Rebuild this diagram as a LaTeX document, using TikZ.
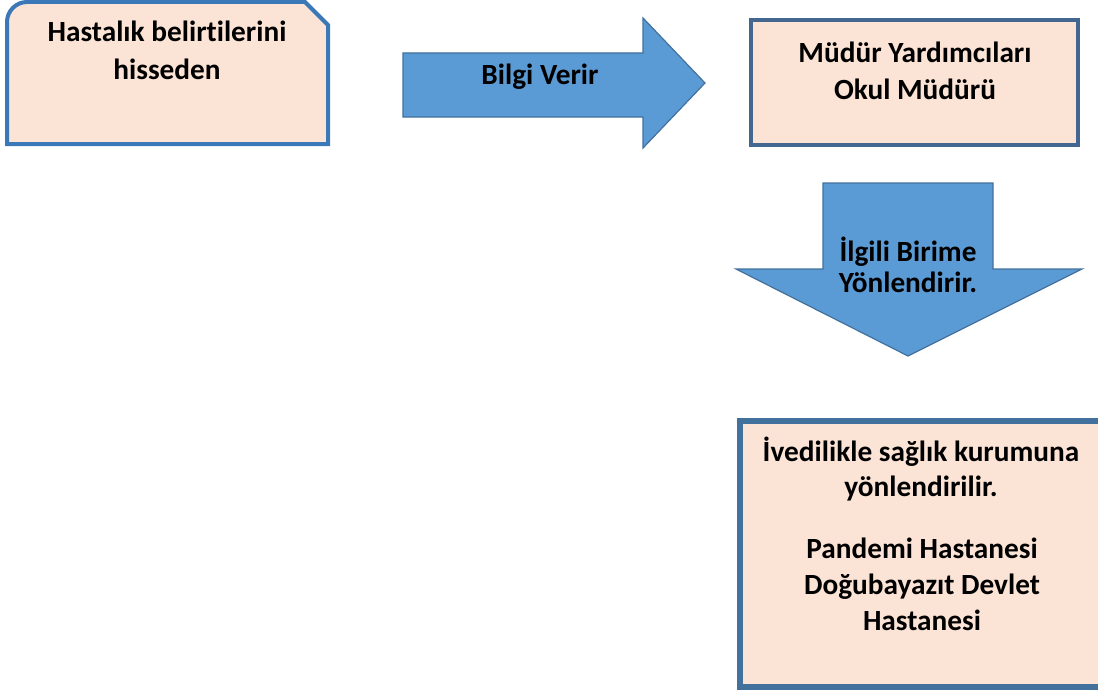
\documentclass[tikz,border=0pt]{standalone}
\usepackage{fontspec}
\setmainfont{Carlito}[Ligatures=NoCommon]
\definecolor{peach}{HTML}{FBE3D6}
\definecolor{boxone}{HTML}{3A78B8}
\definecolor{boxline}{HTML}{44678F}
\definecolor{arrfill}{HTML}{5B9BD5}
\definecolor{arrline}{HTML}{41719C}
\begin{document}
\begin{tikzpicture}[x=1pt,y=-1pt,
  txt/.style={font=\bfseries\fontsize{29.3}{38}\selectfont, align=center, text=black, inner sep=0pt},
  boxst/.style={draw=boxline, fill=peach, line width=4pt},
  arrst/.style={draw=arrline, fill=arrfill, line width=1.2pt, line join=miter}]
\useasboundingbox (0,0) rectangle (1098,693);
% box 1
\draw[boxst, draw=boxone] (7,144) -- (7,22) .. controls (7,11) and (16,2) .. (27,2)
  -- (305,2) -- (328,25) -- (328,144) -- cycle;
\node[txt] (b1) at (167,50) {Hastalık belirtilerini\\hisseden};
% right arrow
\draw[arrst] (403,53) -- (643,53) -- (643,18) -- (705,83) -- (643,148) -- (643,117) -- (403,117) -- cycle;
\node[txt] (a1) at (540,77) {Bilgi Verir};
% box 2
\draw[boxst] (751,20) rectangle (1078,145);
\node[txt, font=\bfseries\fontsize{29.3}{37}\selectfont] (b2) at (915,71) {Müdür Yardımcıları\\Okul Müdürü};
% down arrow
\draw[arrst] (823,183) -- (993,183) -- (993,269) -- (1082,269) -- (908,356) -- (736,269) -- (823,269) -- cycle;
\node[txt, font=\bfseries\fontsize{29.3}{31}\selectfont] (a2) at (908,265) {İlgili Birime\\Yönlendirir.};
% box 3
\draw[boxst, line width=6pt, draw=arrline] (740,421) -- (1110,421) -- (1110,687) -- (740,687) -- cycle;
\node[txt, font=\bfseries\fontsize{29.3}{35}\selectfont] (b3a) at (921,469) {İvedilikle sağlık kurumuna\\yönlendirilir.};
\node[txt, font=\bfseries\fontsize{29.3}{36}\selectfont] (b3b) at (922,584) {Pandemi Hastanesi\\Doğubayazıt Devlet\\Hastanesi};
\end{tikzpicture}
\end{document}
